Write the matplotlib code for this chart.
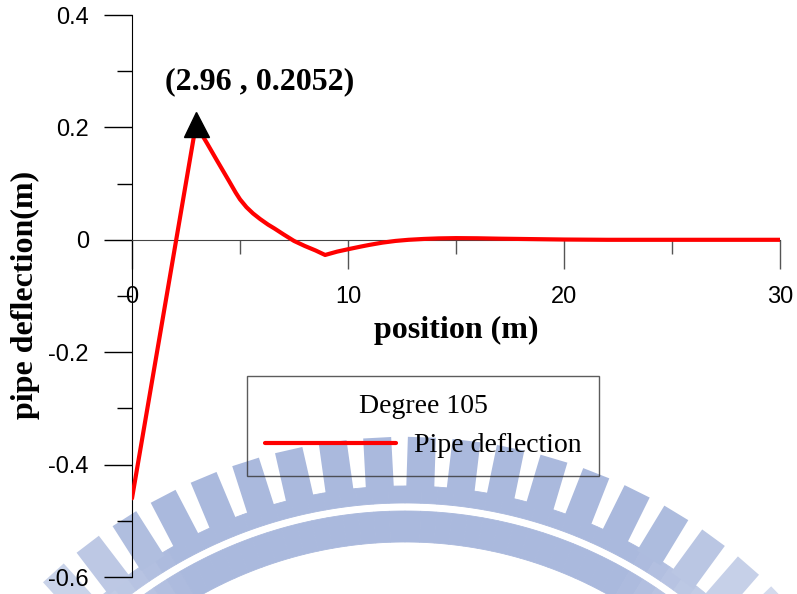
import numpy as np
import matplotlib
matplotlib.use("Agg")
import matplotlib.pyplot as plt
from matplotlib.patches import Polygon
from matplotlib.ticker import MultipleLocator
from matplotlib.colors import to_rgb

# ---- data ----
position = [0, 2.96, 3.5, 3.92, 4.5, 4.8, 5.0, 5.3, 5.6, 5.93, 6.3, 6.6, 7.0, 7.5, 8.0, 8.5, 8.94,
            9.5, 10.1, 10.6, 11.0, 11.6, 12.2, 12.8, 13.5, 14.2, 15.0, 16.0, 17.0, 18.0,
            20.0, 22.0, 25.0, 30.0]
deflection = [-0.46, 0.2052, 0.170, 0.142, 0.104, 0.084, 0.072, 0.058, 0.047, 0.037, 0.027,
              0.020, 0.010, -0.002, -0.011, -0.019, -0.027, -0.021, -0.016, -0.012, -0.009,
              -0.005, -0.002, 0.0, 0.0015, 0.0025, 0.003, 0.0027, 0.002, 0.0015, 0.0005,
              0.0, 0.0, 0.0]
peak_x, peak_y = 2.96, 0.2052
peak_label = "(2.96 , 0.2052)"
x_ticks = [0, 10, 20, 30]
y_ticks = [-0.6, -0.4, -0.2, 0, 0.2, 0.4]
y_tick_labels = ["-0.6", "-0.4", "-0.2", "0", "0.2", "0.4"]

W, H = 797, 594
fig = plt.figure(figsize=(W / 100, H / 100), dpi=100)

# ---- watermark (background decoration) ----
bg = fig.add_axes([0, 0, 1, 1], zorder=0)
bg.set_xlim(0, W)
bg.set_ylim(H, 0)
bg.axis("off")
wm_rgb = np.array(to_rgb("#aab9dd"))
cx, cy = 405, 960


def faded(angle_deg):
    f = np.clip((abs(angle_deg) - 30) / 25, 0, 1) * 0.75
    return tuple(wm_rgb * (1 - f) + f)


def annulus_seg(r_in, r_out, a0, a1):
    th = np.radians(np.linspace(a0, a1, 8))
    return np.concatenate([
        np.c_[cx + r_out * np.sin(th), cy - r_out * np.cos(th)],
        np.c_[cx + r_in * np.sin(th[::-1]), cy - r_in * np.cos(th[::-1])],
    ])


step = 2.0
for a in np.arange(-70, 70, step):
    col = faded(a + step / 2)
    for r_in, r_out in [(418, 449), (457, 474)]:
        bg.add_patch(Polygon(annulus_seg(r_in, r_out, a, a + step), closed=True,
                             facecolor=col, edgecolor=col, linewidth=0.6))
r1, r2, tw = 470, 523, 28
for k in range(-13, 14):
    ang = 1.85 + 4.9 * k
    t = np.radians(ang)
    u = np.array([np.sin(t), -np.cos(t)])
    v = np.array([np.cos(t), np.sin(t)])
    c = np.array([cx, cy])
    pts = [c + r1 * u - tw / 2 * v, c + r2 * u - tw / 2 * v,
           c + r2 * u + tw / 2 * v, c + r1 * u + tw / 2 * v]
    bg.add_patch(Polygon(pts, closed=True, facecolor=faded(ang), edgecolor="none"))

# ---- main axes ----
left, right = 132 / W, 780 / W
bottom, top = 1 - 577 / H, 1 - 15 / H
ax = fig.add_axes([left, bottom, right - left, top - bottom], zorder=1)
ax.patch.set_alpha(0)

ax.plot(position, deflection, color="red", lw=3, solid_capstyle="round",
        solid_joinstyle="round", zorder=3)
ax.plot([peak_x], [peak_y], marker="^", color="black", markersize=18, zorder=4,
        linestyle="none")
ax.text(peak_x + 2.95, peak_y + 0.076, peak_label, ha="center", va="center",
        fontsize=23, fontweight="bold", family="Liberation Serif")

ax.set_xlim(0, 30)
ax.set_ylim(-0.6, 0.4)

ax.spines["top"].set_visible(False)
ax.spines["right"].set_visible(False)
ax.spines["bottom"].set_position(("data", 0))
ax.spines["bottom"].set_color("#444444")
ax.spines["left"].set_color("black")

ax.set_xticks(x_ticks)
ax.xaxis.set_minor_locator(MultipleLocator(5))
ax.set_yticks(y_ticks)
ax.set_yticklabels(y_tick_labels)
ax.yaxis.set_minor_locator(MultipleLocator(0.1))

ax.tick_params(axis="x", which="major", direction="out", length=21, width=1,
               color="#555555", pad=12, labelsize=17)
ax.tick_params(axis="x", which="minor", direction="out", length=10, width=1,
               color="#555555")
ax.tick_params(axis="y", which="major", direction="out", length=20, width=1,
               color="black", pad=11, labelsize=17)
ax.tick_params(axis="y", which="minor", direction="out", length=10.5, width=1,
               color="black")
for lab in ax.get_xticklabels() + ax.get_yticklabels():
    lab.set_family("Liberation Sans")

fig.text(456 / W, 1 - 330 / H, "position (m)", ha="center", va="center",
         fontsize=23, fontweight="bold", family="Liberation Serif")
fig.text(25 / W, 1 - 295 / H, "pipe deflection(m)", ha="center", va="center",
         rotation=90, fontsize=23, fontweight="bold", family="Liberation Serif")

leg = ax.legend(["Pipe deflection"], title="Degree 105",
                loc="upper left", bbox_to_anchor=(247 / W, 1 - 376 / H),
                bbox_transform=fig.transFigure, borderaxespad=0,
                prop=dict(family="Liberation Serif", size=20),
                title_fontproperties=dict(family="Liberation Serif", size=20),
                handlelength=4.7, handletextpad=0.65, borderpad=0.65,
                fancybox=False, edgecolor="#333333")
leg.get_frame().set_facecolor("none")
leg.get_frame().set_linewidth(1)

fig.savefig("out.png", dpi=100)
